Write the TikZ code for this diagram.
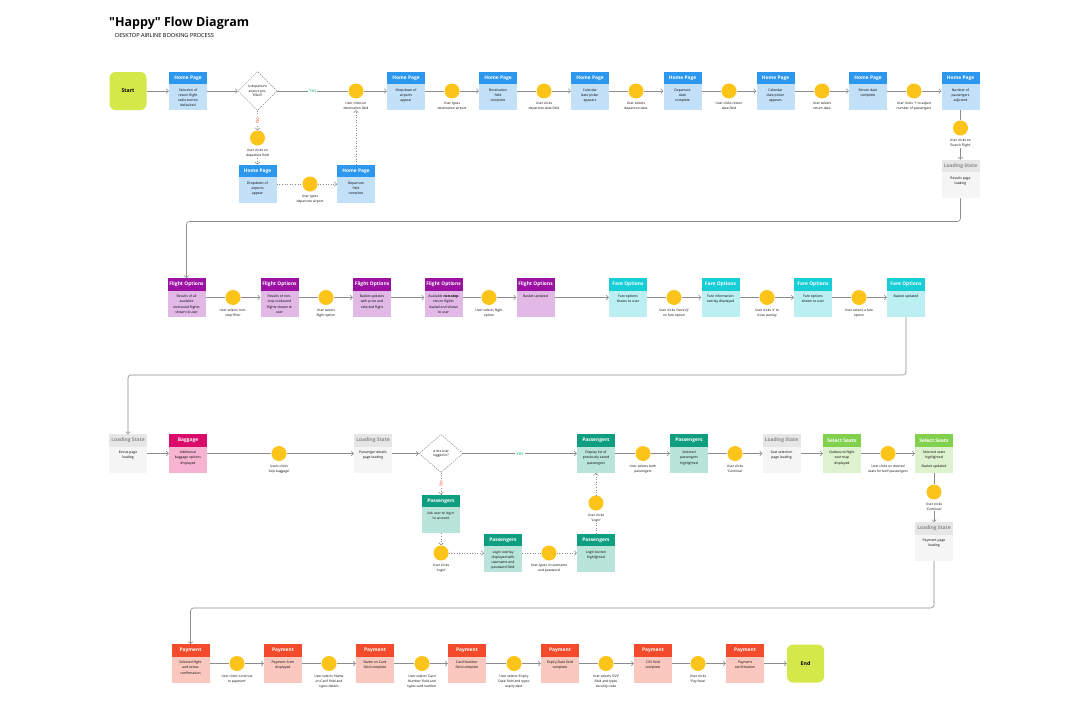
\documentclass[tikz,border=0pt]{standalone}
\usepackage{fontspec}
\setmainfont{Open Sans}
\usetikzlibrary{arrows.meta,shapes.geometric}

\definecolor{homeH}{HTML}{2B97EF}\definecolor{homeB}{HTML}{C3E0F9}\definecolor{homeT}{HTML}{FFFFFF}
\definecolor{loadH}{HTML}{E6E6E6}\definecolor{loadB}{HTML}{F5F5F5}\definecolor{loadT}{HTML}{8A8A8A}
\definecolor{flightH}{HTML}{9B11A1}\definecolor{flightB}{HTML}{E1B8E6}\definecolor{flightT}{HTML}{FFFFFF}
\definecolor{fareH}{HTML}{17CDD6}\definecolor{fareB}{HTML}{BCEFF2}\definecolor{fareT}{HTML}{FFFFFF}
\definecolor{bagH}{HTML}{DB0B6B}\definecolor{bagB}{HTML}{F7B4D2}\definecolor{bagT}{HTML}{FFFFFF}
\definecolor{passH}{HTML}{0F9E80}\definecolor{passB}{HTML}{B9E4DA}\definecolor{passT}{HTML}{FFFFFF}
\definecolor{seatH}{HTML}{82D14E}\definecolor{seatB}{HTML}{DDF2CE}\definecolor{seatT}{HTML}{FFFFFF}
\definecolor{payH}{HTML}{F24A2A}\definecolor{payB}{HTML}{FBC8BF}\definecolor{payT}{HTML}{FFFFFF}
\definecolor{actY}{HTML}{FCC419}
\definecolor{limeG}{HTML}{D4E84A}
\definecolor{lineG}{HTML}{8C8C8C}
\definecolor{yesG}{HTML}{1AB394}
\definecolor{noR}{HTML}{F0643C}

\tikzset{
  screen/.style={rectangle, inner sep=0, minimum width=38pt, minimum height=38.5pt},
  screenhead/.style={rectangle, inner sep=0, minimum width=38pt, minimum height=12.5pt,
    font=\fontsize{4.9}{6}\selectfont\bfseries},
  screentext/.style={inner sep=0, align=center, font=\fontsize{3.4}{5.2}\selectfont},
  act/.style={circle, fill=actY, inner sep=0, minimum size=15pt},
  acttext/.style={inner sep=0, align=center, font=\fontsize{3.3}{5}\selectfont},
  terminal/.style={rectangle, rounded corners=6pt, fill=limeG, minimum width=37pt,
    minimum height=38pt, font=\fontsize{5.2}{6}\selectfont\bfseries},
  decision/.style={diamond, draw=lineG, dash pattern=on 1.5pt off 1pt, line width=0.5pt,
    fill=white, inner sep=0, minimum width=39pt, minimum height=39pt, align=center,
    font=\fontsize{3.3}{4.6}\selectfont},
  flow/.style={draw=lineG, line width=0.6pt},
  >={Straight Barb[length=2pt,width=4.5pt]},
  yes/.style={fill=white, text=yesG, inner sep=1pt, font=\fontsize{4.6}{5}\selectfont},
  no/.style={fill=white, text=noR, inner sep=1pt, rotate=90, font=\fontsize{4.6}{5}\selectfont},
}

% screen box: name, position, kind, title, text
\newcommand\screen[5]{%
  \node[screen, fill=#3B] (#1) at (#2) {};
  \node[screenhead, fill=#3H, text=#3T, anchor=north] (#1-h) at (#1.north) {#4};
  \node[screentext, anchor=north] (#1-t) at ([yshift=-4pt]#1-h.south) {#5};
}
% user action: name, position, text
\newcommand\action[3]{%
  \node[act] (#1) at (#2) {};
  \node[acttext, anchor=north] (#1-l) at ([yshift=-3.5pt]#1.south) {#3};
}

\begin{document}
\begin{tikzpicture}[x=1pt, y=-1pt]
  \useasboundingbox (0,0) rectangle (1088,712);
  \fill[white] (0,0) rectangle (1088,712);

  \node[anchor=base west, inner sep=0, font=\fontsize{12.5}{14}\selectfont\bfseries] (title) at (109,27) {\textquotedbl Happy\textquotedbl{} Flow Diagram};
  \node[anchor=base west, inner sep=0, font=\fontsize{5.6}{7}\selectfont] (subtitle) at (115,37.5) {DESKTOP AIRLINE BOOKING PROCESS};

  % row 1: home page
  \node[terminal] (start) at (128,91) {Start};
  \screen{hp1}{188,91}{home}{Home Page}{Selection of\\return flight\\radio button\\defaulted}
  \node[decision] (d1) at (257.5,91) {Is departure\\airport pre-\\filled?};
  \action{c1}{356,91}{User clicks on\\destination field}
  \screen{hp2}{406,91}{home}{Home Page}{Dropdown of\\airports\\appear}
  \action{c2}{452,91}{User types\\destination airport}
  \screen{hp3}{498,91}{home}{Home Page}{Destination\\field\\complete}
  \action{c3}{544,91}{User clicks\\departure date field}
  \screen{hp4}{590,91}{home}{Home Page}{Calendar\\date picker\\appears}
  \action{c4}{636,91}{User selects\\departure date}
  \screen{hp5}{682.5,91}{home}{Home Page}{Departure\\date\\complete}
  \action{c5}{729,91}{User clicks return\\date field}
  \screen{hp6}{775.5,91}{home}{Home Page}{Calendar\\date picker\\appears}
  \action{c6}{822,91}{User selects\\return date}
  \screen{hp7}{868,91}{home}{Home Page}{Return date\\complete}
  \action{c7}{914,91}{User clicks `+' to adjust\\number of passengers}
  \screen{hp8}{960.5,91}{home}{Home Page}{Number of\\passengers\\adjusted}
  \action{c8}{960.5,128}{User clicks on\\`Search Flight'}
  \screen{ls1}{960.5,179}{load}{Loading State}{Results page\\loading}
  \action{cA}{257.5,138}{User clicks on\\departure field}
  \screen{hpA}{257.5,184}{home}{Home Page}{Dropdown of\\airports\\appear}
  \action{cB}{310,184}{User types\\departure airport}
  \screen{hpB}{356,184}{home}{Home Page}{Departure\\field\\complete}

  % row 2: flight and fare options
  \screen{fo1}{186.5,297.5}{flight}{Flight Options}{Results of all\\available\\outbound flights\\shown to user}
  \action{c9}{233,297.5}{User selects `non-\\stop' filter}
  \screen{fo2}{279.5,297.5}{flight}{Flight Options}{Results of non-\\stop outbound\\flights shown to\\user}
  \action{c10}{326,297.5}{User selects\\flight option}
  \screen{fo3}{372,297.5}{flight}{Flight Options}{Basket updates\\with price and\\selected flight}
  \screen{fo4}{443.5,297.5}{flight}{Flight Options}{Available \textbf{non-stop}\\return flights\\loaded and shown\\to user}
  \action{c11}{489,297.5}{User selects flight\\option}
  \screen{fo5}{535.5,297.5}{flight}{Flight Options}{Basket updated}
  \screen{fa1}{628,297.5}{fare}{Fare Options}{Fare options\\shown to user}
  \action{c12}{674,297.5}{User clicks `more (i)'\\on fare option}
  \screen{fa2}{720.5,297.5}{fare}{Fare Options}{Fare information\\overlay displayed}
  \action{c13}{767,297.5}{User clicks `x' to\\close overlay}
  \screen{fa3}{813,297.5}{fare}{Fare Options}{Fare options\\shown to user}
  \action{c14}{859,297.5}{User selects a fare\\option}
  \screen{fa4}{906,297.5}{fare}{Fare Options}{Basket updated}

  % row 3: baggage, passengers, seats
  \screen{ls2}{128,453.5}{load}{Loading State}{Extras page\\loading}
  \screen{bag}{188,453.5}{bag}{Baggage}{Additional\\baggage options\\displayed}
  \action{c15}{279,453.5}{Users clicks\\`skip baggage'}
  \screen{ls3}{373,453.5}{load}{Loading State}{Passenger details\\page loading}
  \node[decision, minimum width=44pt, minimum height=38pt] (d2) at (441,453.5) {Is the user\\logged in?};
  \screen{pa1}{596,453.5}{pass}{Passengers}{Display list of\\previously saved\\passengers}
  \action{c16}{643,453.5}{User selects both\\passengers}
  \screen{pa2}{689,453.5}{pass}{Passengers}{Selected\\passengers\\highlighted}
  \action{c17}{735,453.5}{User clicks\\`Continue'}
  \screen{ls4}{781.5,453.5}{load}{Loading State}{Seat selection\\page loading}
  \screen{se1}{842,453.5}{seat}{Select Seats}{Outbound flight\\seat map\\displayed}
  \action{c18}{888,453.5}{User clicks on desired\\seats for both passengers}
  \screen{se2}{934,453.5}{seat}{Select Seats}{Selected seats\\highlighted\\[3pt]Basket updated}
  \action{c19}{934,492}{User clicks\\`Continue'}
  \screen{ls5}{934,541.5}{load}{Loading State}{Payment page\\loading}
  \screen{paL}{441,514}{pass}{Passengers}{Ask user to log in\\to account}
  \action{cL}{441,553}{User clicks\\`Login'}
  \screen{paM}{503,553}{pass}{Passengers}{Login overlay\\displayed with\\username and\\password field}
  \action{cM}{549,553}{User types in username\\and password}
  \screen{paR}{596,553}{pass}{Passengers}{Login button\\highlighted}
  \action{cR}{596,503}{User clicks\\`Login'}

  % row 4: payment
  \screen{py1}{190.5,663.5}{pay}{Payment}{Selected flight\\and extras\\confirmation}
  \action{c20}{237,663.5}{User clicks `continue\\to payment'}
  \screen{py2}{283,663.5}{pay}{Payment}{Payment form\\displayed}
  \action{c21}{329,663.5}{User selects `Name\\on Card' field and\\types details}
  \screen{py3}{375,663.5}{pay}{Payment}{Name on Card\\field complete}
  \action{c22}{422,663.5}{User selects `Card\\Number' field and\\types card number}
  \screen{py4}{467,663.5}{pay}{Payment}{Card Number\\field complete}
  \action{c23}{514,663.5}{User selects `Expiry\\Date' field and types\\expiry date}
  \screen{py5}{560,663.5}{pay}{Payment}{Expiry Date field\\complete}
  \action{c24}{606,663.5}{User selects `CVV'\\field and types\\security code}
  \screen{py6}{653,663.5}{pay}{Payment}{CVV field\\complete}
  \action{c25}{698,663.5}{User clicks\\`Pay Now'}
  \screen{py7}{745,663.5}{pay}{Payment}{Payment\\confirmation}
  \node[terminal] (finish) at (805.5,663.5) {End};

  % connectors
  \foreach \a/\b in {hp1/d1,c1/hp2,c2/hp3,c3/hp4,c4/hp5,c5/hp6,c6/hp7,c7/hp8,c8-l/ls1,
      c9/fo2,c10/fo3,fo3/fo4,c11/fo5,fo5/fa1,c12/fa2,c13/fa3,c14/fa4,
      ls2/bag,c15/ls3,ls3/d2,c16/pa2,c17/ls4,ls4/se1,c18/se2,c19-l/ls5,
      c20/py2,c21/py3,c22/py4,c23/py5,c24/py6,c25/py7,py7/finish,start/hp1}
    \draw[flow,->] (\a) -- (\b);
  \foreach \a/\b in {hp2/c2,hp3/c3,hp4/c4,hp5/c5,hp6/c6,hp7/c7,hp8/c8,
      fo1/c9,fo2/c10,fo4/c11,fa1/c12,fa2/c13,fa3/c14,
      bag/c15,pa1/c16,pa2/c17,se1/c18,se2/c19,
      py1/c20,py2/c21,py3/c22,py4/c23,py5/c24,py6/c25}
    \draw[flow] (\a) -- (\b);
  \draw[flow] (d1) -- node[yes]{Yes} (c1);
  \draw[flow,->] (d2) -- node[yes]{Yes} (pa1);
  \draw[flow,->,rounded corners=3pt] (ls1.south) -- ++(0,23) -| (fo1.north);
  \draw[flow,->,rounded corners=3pt] (fa4.south) -- ++(0,58) -| (ls2.north);
  \draw[flow,->,rounded corners=3pt] (ls5.south) -- ++(0,47) -| (py1.north);

  % not pre-filled / not logged in
  \draw[flow,dotted,->] (d1) -- node[no]{No} (cA);
  \draw[flow,dotted,->] (cA-l) -- (hpA);
  \draw[flow,dotted] (hpA) -- (cB);
  \draw[flow,dotted,->] (cB) -- (hpB);
  \draw[flow,dotted,->] (hpB) -- (c1-l);
  \draw[flow,dotted,->] (d2) -- node[no]{No} (paL);
  \draw[flow,dotted,->] (paL) -- (cL);
  \draw[flow,dotted,->] (cL) -- (paM);
  \draw[flow,dotted] (paM) -- (cM);
  \draw[flow,dotted,->] (cM) -- (paR);
  \draw[flow,dotted] (paR) -- (cR-l);
  \draw[flow,dotted,->] (cR) -- (pa1);
\end{tikzpicture}
\end{document}
